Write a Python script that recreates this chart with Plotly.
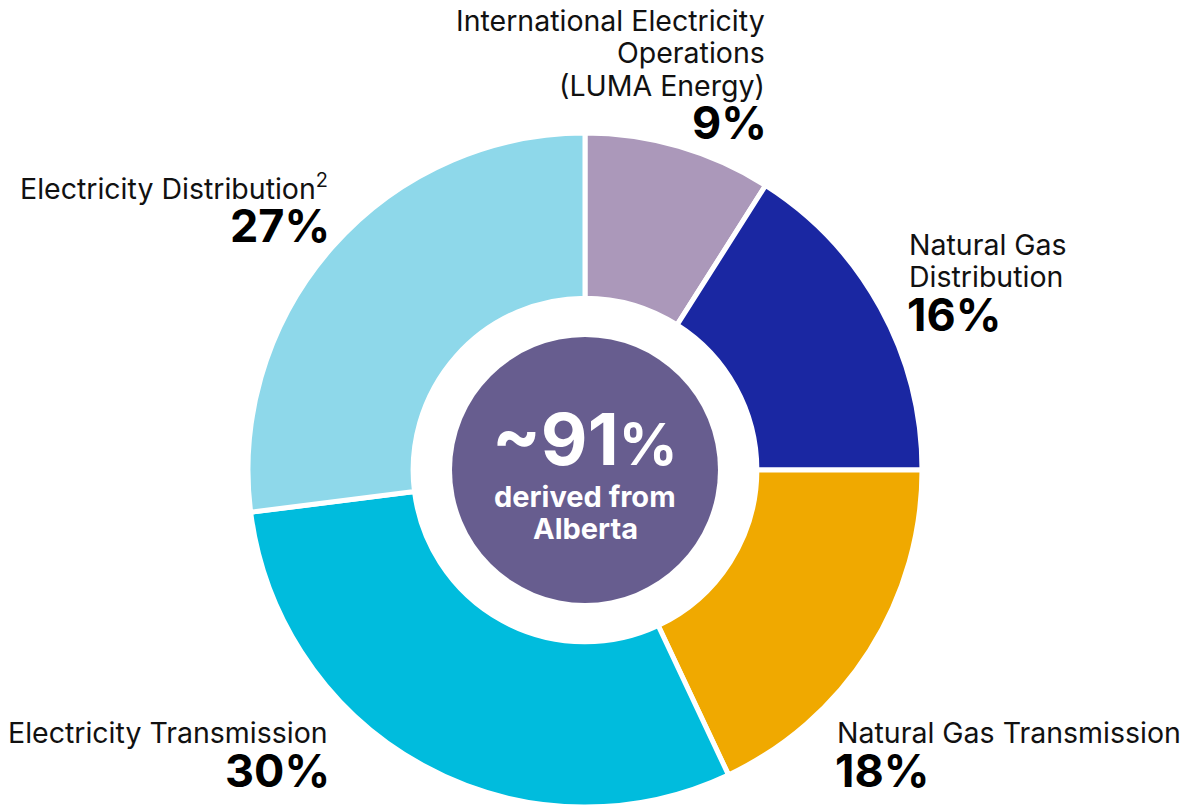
import plotly.graph_objects as go

segments = ["International Electricity Operations (LUMA Energy)", "Natural Gas Distribution",
            "Natural Gas Transmission", "Electricity Transmission", "Electricity Distribution"]
shares = [9, 16, 18, 30, 27]
pct_labels = ["9%", "16%", "18%", "30%", "27%"]
label_lines = [
    ["International Electricity", "Operations", "(LUMA Energy)"],
    ["Natural Gas", "Distribution"],
    ["Natural Gas Transmission"],
    ["Electricity Transmission"],
    ["Electricity Distribution<sup>2</sup>"],
]
colors = ["#ab98ba", "#1a27a2", "#f0a900", "#00bcdd", "#8ed8ea"]
center_big = "~91"
center_big_suffix = "%"
center_small = ["derived from", "Alberta"]

W, H = 1188, 807
cx, cy, R = 585, 470, 337


def px(x):
    return x / W


def py(y):
    return 1 - y / H


fig = go.Figure(go.Pie(
    labels=segments, values=shares, sort=False, direction="clockwise", rotation=0,
    hole=0.51, marker=dict(colors=colors, line=dict(color="white", width=5)),
    textinfo="none", hoverinfo="skip", showlegend=False,
    domain=dict(x=[px(cx - R), px(cx + R)], y=[py(cy + R), py(cy - R)]),
))

FONT = "Inter, Roboto, sans-serif"
annos = []
# label layout: (anchor x, xanchor, first line center y, percent center y)
layout_pos = [
    (767, "right", 20, 122),
    (907, "left", 244, 314),
    (835, "left", 732, 770),
    (330, "right", 732, 770),
    (330, "right", 187, 225),
]
LINE = 32.5
for lines, pct, (x, xa, y0, yp) in zip(label_lines, pct_labels, layout_pos):
    for i, ln in enumerate(lines):
        annos.append(dict(text=ln, x=px(x), y=py(y0 + i * LINE), xref="paper", yref="paper",
                          xanchor=xa, yanchor="middle", showarrow=False,
                          font=dict(family=FONT, size=28.5, color="#111111")))
    annos.append(dict(text="<b>" + pct + "</b>", x=px(x + (2 if xa == "right" else -2)), y=py(yp),
                      xref="paper", yref="paper", xanchor=xa, yanchor="middle", showarrow=False,
                      font=dict(family=FONT, size=45, color="#000000")))

annos.append(dict(text="<b>" + center_big + "<span style='font-size:58px'>" + center_big_suffix + "</span></b>",
                  x=px(cx), y=py(438), xref="paper", yref="paper",
                  xanchor="center", yanchor="middle", showarrow=False,
                  font=dict(family=FONT, size=72, color="white")))
for i, t in enumerate(center_small):
    annos.append(dict(text="<b>" + t + "</b>", x=px(cx), y=py(496 + i * 32), xref="paper", yref="paper",
                      xanchor="center", yanchor="middle", showarrow=False,
                      font=dict(family=FONT, size=29, color="white")))

r_in = 133
fig.update_layout(
    width=W, height=H, margin=dict(l=0, r=0, t=0, b=0),
    paper_bgcolor="white", plot_bgcolor="white",
    annotations=annos,
    shapes=[dict(type="circle", xref="paper", yref="paper",
                 x0=px(cx - r_in), x1=px(cx + r_in), y0=py(cy + r_in), y1=py(cy - r_in),
                 fillcolor="#675d8f", line=dict(width=0), layer="above")],
)
fig.write_html("out.html", config={"displayModeBar": False},
               post_script="document.body.style.margin='0';document.body.style.overflow='hidden';")
